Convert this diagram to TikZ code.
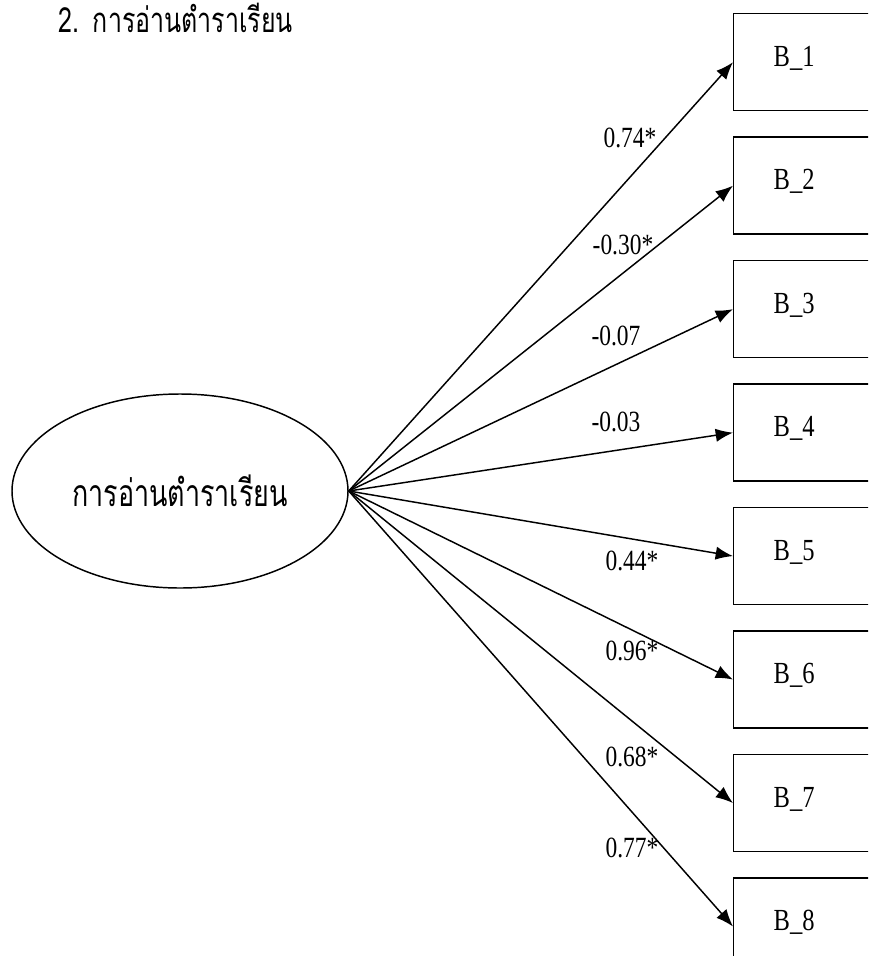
\documentclass[tikz,border=0pt]{standalone}
\usepackage{fontspec}
\setmainfont{Liberation Serif}
\newfontfamily\thaifont[Script=Thai, FakeStretch=0.72]{Loma}
\newfontfamily\coeffont[FakeStretch=0.8]{Liberation Serif}
\usetikzlibrary{positioning, shapes.geometric, arrows.meta}

\begin{document}
\begin{tikzpicture}[x=0.75pt, y=-0.75pt,
                    latnode/.style={ellipse, draw=black, line width=1.1pt, minimum width=252pt, minimum height=145.5pt, inner sep=0pt, font=\thaifont\fontsize{28}{32}\selectfont},
                    obsnode/.style={rectangle, draw=black, line width=1.1pt, minimum height=72.75pt, text width=120pt, inner xsep=30pt, align=left, text depth=9pt, font=\coeffont\fontsize{23}{26}\selectfont},
                    coefnode/.style={inner sep=0pt, font=\coeffont\fontsize{22}{24}\selectfont},
                    node distance=18.75pt,
                    >={Latex[length=13pt, width=10pt]},
                ]
                    \useasboundingbox (0,0) rectangle (868,956);
                    \clip (0,0) rectangle (868,956);

                    %Title
                    \node[anchor=base west, inner sep=0pt, font=\thaifont\fontsize{26}{30}\selectfont](title) at (58,33) {2.\hspace{0.4em}การอ่านตำราเรียน};

                    %Nodes
                    \node[latnode](read) at (180,491) {การอ่านตำราเรียน};
                    \node[obsnode, anchor=north west](b1) at (733,13) {B\_1};
                    \node[obsnode](b2)[below=of b1] {B\_2};
                    \node[obsnode](b3)[below=of b2] {B\_3};
                    \node[obsnode](b4)[below=of b3] {B\_4};
                    \node[obsnode](b5)[below=of b4] {B\_5};
                    \node[obsnode](b6)[below=of b5] {B\_6};
                    \node[obsnode](b7)[below=of b6] {B\_7};
                    \node[obsnode](b8)[below=of b7] {B\_8};

                    %Lines
                    \draw[line width=1.1pt, ->](read.east) -- (b1.west);
                    \draw[line width=1.1pt, ->](read.east) -- (b2.west);
                    \draw[line width=1.1pt, ->](read.east) -- (b3.west);
                    \draw[line width=1.1pt, ->](read.east) -- (b4.west);
                    \draw[line width=1.1pt, ->](read.east) -- (b5.west);
                    \draw[line width=1.1pt, ->](read.east) -- (b6.west);
                    \draw[line width=1.1pt, ->](read.east) -- (b7.west);
                    \draw[line width=1.1pt, ->](read.east) -- (b8.west);

                    %Loadings
                    \node[coefnode](l1) at (630,138) {0.74*};
                    \node[coefnode](l2) at (623,245) {-0.30*};
                    \node[coefnode](l3) at (616,336) {-0.07};
                    \node[coefnode](l4) at (616,422) {-0.03};
                    \node[coefnode](l5) at (632,561) {0.44*};
                    \node[coefnode](l6) at (632,651) {0.96*};
                    \node[coefnode](l7) at (632,757) {0.68*};
                    \node[coefnode](l8) at (632,848) {0.77*};
                \end{tikzpicture}
\end{document}
